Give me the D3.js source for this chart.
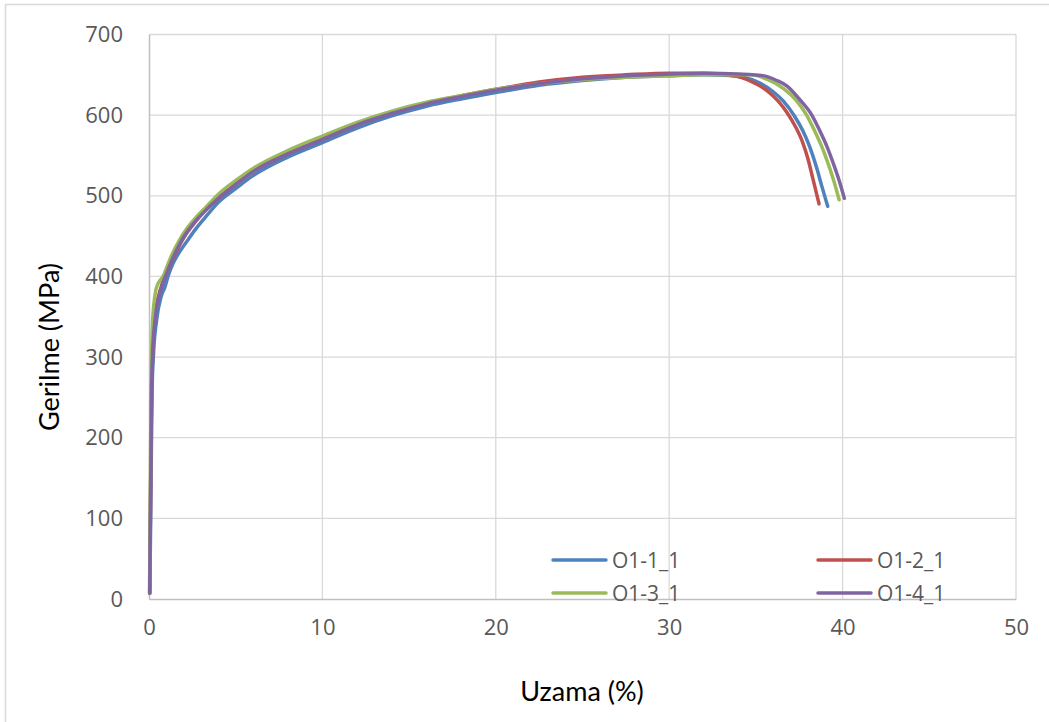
<!DOCTYPE html>
<html>
<head>
<meta charset="utf-8">
<script src="https://cdn.jsdelivr.net/npm/d3@7"></script>
<style>
  body { margin: 0; background: #fff; }
  svg { display: block; }
  .tick text { font-family: "Open Sans", sans-serif; font-size: 22px; fill: #595959; }
  .axis-title { font-family: Lato, sans-serif; font-size: 27px; fill: #000; }
  .legend text { font-family: "Open Sans", sans-serif; font-size: 21px; fill: #595959; }
</style>
</head>
<body>
<script>
// series names + colours (old office palette)
const seriesNames = ["O1-1_1", "O1-2_1", "O1-3_1", "O1-4_1"];
const seriesColors = ["#4F81BD", "#C0504D", "#9BBB59", "#8064A2"];

// strain (%) / stress (MPa)
const strain1 = [0.05, 0.12, 0.18, 0.25, 0.44, 0.7, 0.92, 1.11, 1.3, 1.69, 2.2, 2.7, 3.2, 4, 5, 6, 8, 10, 12, 14, 16, 18, 20, 22.5, 25, 27.5, 30, 32, 33.5, 34.3, 35.2, 36.0, 36.6, 37.25, 37.7, 38.1, 38.5, 38.8, 39.14];
const stress1 = [7, 150, 260, 300, 346, 375, 387, 401, 412, 428, 444, 459, 472, 492, 509, 525, 548, 566, 584, 599, 611, 620, 628, 637, 643, 647, 649, 650, 649, 647, 640, 629, 617, 598, 581, 561, 535, 512, 487];

const strain2 = [0.04, 0.1, 0.15, 0.2, 0.33, 0.7, 1.0, 1.3, 1.6, 2, 2.5, 3, 4, 5, 6, 8, 10, 12, 14, 16, 18, 20, 22.5, 25, 27.5, 30, 32, 33.7, 34.7, 35.6, 36.3, 36.8, 37.3, 37.7, 38.0, 38.3, 38.64];
const stress2 = [7, 150, 260, 300, 346, 387, 403, 418, 432, 448, 463, 476, 497, 514, 530, 552, 570, 588, 603, 615, 624, 632, 641, 647, 650, 652, 652, 649, 642, 631, 617, 603, 585, 566, 546, 520, 490];

const strain3 = [0.03, 0.08, 0.12, 0.15, 0.21, 0.44, 0.83, 1.0, 1.3, 1.7, 2.2, 2.7, 3.2, 4, 5, 6, 8, 10, 12, 14, 16, 18, 20, 22.5, 25, 27.5, 30, 32, 33.5, 34.7, 35.7, 36.6, 37.3, 37.9, 38.4, 38.8, 39.1, 39.5, 39.8];
const stress3 = [7, 150, 260, 300, 346, 387, 401, 410, 426, 443, 460, 473, 484, 502, 519, 534, 556, 574, 591, 605, 616, 624, 632, 639, 644, 647, 649, 650, 650, 650, 644, 633, 619, 601, 580, 561, 544, 518, 495];

const strain4 = [0.04, 0.1, 0.15, 0.2, 0.35, 0.73, 1.0, 1.3, 1.6, 2, 2.5, 3, 4, 5, 6, 8, 10, 12, 14, 16, 18, 20, 22.5, 25, 27.5, 30, 32, 34, 35.4, 36.2, 36.8, 37.5, 38.2, 38.7, 39.1, 39.5, 39.8, 40.1];
const stress4 = [7, 150, 260, 300, 346, 387, 403, 419, 433, 449, 464, 476, 497, 514, 530, 552, 570, 588, 602, 614, 623, 631, 639, 645, 649, 651, 652, 651, 649, 643, 636, 620, 601, 580, 561, 538, 519, 497];

const xTicks = [0, 10, 20, 30, 40, 50];
const yTicks = [0, 100, 200, 300, 400, 500, 600, 700];

const strains = [strain1, strain2, strain3, strain4];
const stresses = [stress1, stress2, stress3, stress4];

const W = 1049, H = 722;
const plotL = 149, plotR = 1016, plotT = 34.5, plotB = 599;

const svg = d3.select("body").append("svg")
  .attr("width", W)
  .attr("height", H);

// outer chart border (only top/left visible)
svg.append("rect")
  .attr("x", 5.5).attr("y", 4.5)
  .attr("width", 1200).attr("height", 1000)
  .attr("fill", "none")
  .attr("stroke", "#D9D9D9")
  .attr("stroke-width", 1.5);

const x = d3.scaleLinear().domain([0, 50]).range([plotL, plotR]);
const y = d3.scaleLinear().domain([0, 700]).range([plotB, plotT]);

// gridlines
const grid = svg.append("g");
grid.selectAll(".hg").data(yTicks.slice(1)).enter().append("line")
  .attr("x1", plotL).attr("x2", plotR)
  .attr("y1", d => y(d)).attr("y2", d => y(d))
  .attr("stroke", "#D9D9D9").attr("stroke-width", 1.3);
grid.selectAll(".vg").data(xTicks.slice(1)).enter().append("line")
  .attr("y1", plotT).attr("y2", plotB)
  .attr("x1", d => x(d)).attr("x2", d => x(d))
  .attr("stroke", "#D9D9D9").attr("stroke-width", 1.3);

// axes
const yAxis = svg.append("g")
  .attr("transform", `translate(${plotL},0)`)
  .call(d3.axisLeft(y).tickValues(yTicks).tickSize(0).tickPadding(26));
yAxis.select(".domain").attr("stroke", "#BFBFBF").attr("stroke-width", 1.5);

const xAxis = svg.append("g")
  .attr("transform", `translate(0,${plotB})`)
  .call(d3.axisBottom(x).tickValues(xTicks).tickSize(0).tickPadding(20));
xAxis.select(".domain").attr("stroke", "#BFBFBF").attr("stroke-width", 1.5);

// curves
const line = d3.line()
  .x(d => x(d[0]))
  .y(d => y(d[1]))
  .curve(d3.curveMonotoneX);

seriesNames.forEach((name, i) => {
  const pts = strains[i].map((s, j) => [s, stresses[i][j]]);
  svg.append("path")
    .datum(pts)
    .attr("d", line)
    .attr("fill", "none")
    .attr("stroke", seriesColors[i])
    .attr("stroke-width", 3.5)
    .attr("stroke-linecap", "round")
    .attr("stroke-linejoin", "round");
});

// legend, 2 columns
const legend = svg.append("g").attr("class", "legend");
const legX = [553, 818];
const legY = [560, 593];
seriesNames.forEach((name, i) => {
  const lx = legX[i % 2], ly = legY[Math.floor(i / 2)];
  legend.append("line")
    .attr("x1", lx).attr("x2", lx + 53)
    .attr("y1", ly).attr("y2", ly)
    .attr("stroke", seriesColors[i])
    .attr("stroke-width", 3.5)
    .attr("stroke-linecap", "round");
  legend.append("text")
    .attr("x", lx + 59).attr("y", ly)
    .attr("dy", "0.36em")
    .text(name);
});

// axis titles
svg.append("text")
  .attr("class", "axis-title")
  .attr("x", 582).attr("y", 701)
  .attr("text-anchor", "middle")
  .text("Uzama (%)");

svg.append("text")
  .attr("class", "axis-title")
  .attr("transform", "translate(59,347) rotate(-90)")
  .attr("text-anchor", "middle")
  .text("Gerilme (MPa)");
</script>
</body>
</html>
